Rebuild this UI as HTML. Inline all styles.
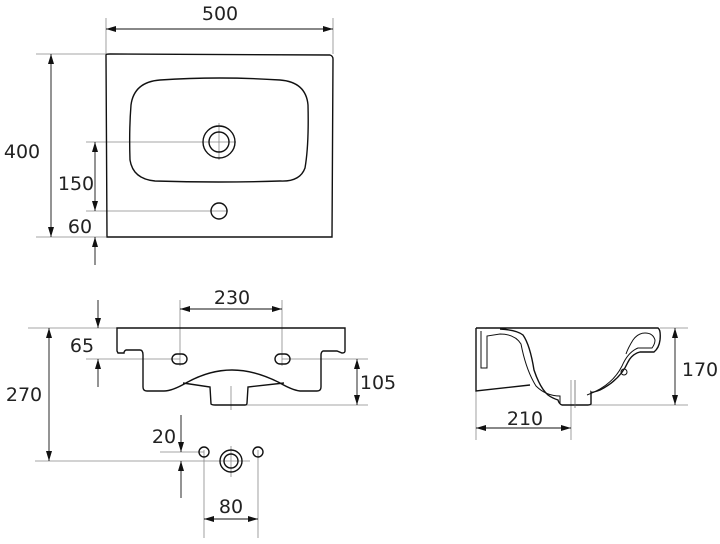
<!DOCTYPE html>
<html><head><style>html,body{margin:0;padding:0;background:#fff}svg{display:block}text{font-family:"DejaVu Sans","Liberation Sans",sans-serif;fill:#222}</style></head>
<body>
<svg width="720" height="544" viewBox="0 0 720 544" xmlns="http://www.w3.org/2000/svg">
<defs>
<marker id="a" viewBox="0 0 10 6" refX="10" refY="3" markerWidth="11" markerHeight="6" markerUnits="userSpaceOnUse" orient="auto-start-reverse"><path d="M0,0 L10,3 L0,6 z" fill="#111"/></marker>
</defs>
<g stroke="#888" stroke-width="0.8" fill="none">
<line x1="106" y1="18" x2="106" y2="54"/><line x1="333" y1="18" x2="333" y2="54"/>
<line x1="36" y1="54" x2="106" y2="54"/><line x1="36" y1="237" x2="106" y2="237"/>
<line x1="86" y1="142" x2="236" y2="142"/><line x1="86" y1="211" x2="228" y2="211"/>
<line x1="219" y1="123" x2="219" y2="160"/>
<line x1="180" y1="300" x2="180" y2="366"/><line x1="282" y1="300" x2="282" y2="366"/>
<line x1="28" y1="328" x2="117" y2="328"/><line x1="86" y1="359" x2="180" y2="359"/>
<line x1="282" y1="359" x2="368" y2="359"/><line x1="240" y1="405" x2="368" y2="405"/>
<line x1="35" y1="461" x2="250" y2="461"/><line x1="160" y1="452" x2="204" y2="452"/>
<line x1="231" y1="386" x2="231" y2="410"/><line x1="231" y1="446" x2="231" y2="477"/>
<line x1="204" y1="450" x2="204" y2="538"/><line x1="258" y1="450" x2="258" y2="538"/>
<line x1="660" y1="328" x2="688" y2="328"/><line x1="590" y1="405" x2="688" y2="405"/>
<line x1="476" y1="390" x2="476" y2="440"/><line x1="571" y1="380" x2="571" y2="440"/>
</g>
<g stroke="#111" stroke-width="0.9" fill="none">
<line x1="106" y1="29" x2="333" y2="29" marker-start="url(#a)" marker-end="url(#a)"/>
<line x1="51" y1="54" x2="51" y2="237" marker-start="url(#a)" marker-end="url(#a)"/>
<line x1="95" y1="142" x2="95" y2="211" marker-start="url(#a)" marker-end="url(#a)"/>
<line x1="95" y1="237" x2="95" y2="265" marker-start="url(#a)"/>
<line x1="180" y1="309" x2="282" y2="309" marker-start="url(#a)" marker-end="url(#a)"/>
<line x1="98" y1="300" x2="98" y2="328" marker-end="url(#a)"/>
<line x1="98" y1="359" x2="98" y2="387" marker-start="url(#a)"/>
<line x1="49" y1="328" x2="49" y2="461" marker-start="url(#a)" marker-end="url(#a)"/>
<line x1="357" y1="359" x2="357" y2="405" marker-start="url(#a)" marker-end="url(#a)"/>
<line x1="181" y1="415" x2="181" y2="452" marker-end="url(#a)"/>
<line x1="181" y1="461" x2="181" y2="498" marker-start="url(#a)"/>
<line x1="204" y1="519" x2="258" y2="519" marker-start="url(#a)" marker-end="url(#a)"/>
<line x1="675" y1="328" x2="675" y2="405" marker-start="url(#a)" marker-end="url(#a)"/>
<line x1="476" y1="428" x2="571" y2="428" marker-start="url(#a)" marker-end="url(#a)"/>
</g>
<g stroke="#111" stroke-width="1.4" fill="none">
<path d="M106,55 Q106,54 110,54 L330,55 Q333,56 333,59 L332,237 L107,237 Z"/>
<path d="M160,80 Q219,76 280,80 Q306,82 308,105 Q309,145 305,168 Q300,182 280,181 Q219,183 155,181 Q133,179 130,160 Q129,130 131,105 Q134,82 160,80 Z"/>
<circle cx="219" cy="142" r="16"/><circle cx="219" cy="142" r="10"/>
<circle cx="219" cy="211" r="8"/>
<path d="M117,328 L345,328 L345,351 Q345,353 342,353 L337,351 L323,351 Q321,352 321,355 L321,387 Q321,391 317,391 L300,391 Q292,390 280,383 Q255,370 232,370 Q209,370 186,383 Q172,391 164,391 L147,391 Q143,391 143,387 L143,355 Q143,350 140,350 L126,350 Q124,351 124,353 L118,353 L117,351 Z"/>
<path d="M183,383 L210,387 L211,404 Q212,405 215,405 L245,405 Q247,405 247,403 L248,387 L284,383"/>
<rect x="172" y="354" width="15" height="10" rx="5"/><rect x="275" y="354" width="15" height="10" rx="5"/>
<circle cx="204" cy="452" r="5"/><circle cx="258" cy="452" r="5"/>
<circle cx="231" cy="461" r="11"/><circle cx="231" cy="461" r="7"/>
<!-- side view -->
<path d="M476,328 L658,328 Q661,330 660,340 Q659,348 654,352 L640,352 Q632,354 628,362 Q620,380 600,390 Q592,393 591,392 L591,404 Q590,405 588,405 L562,405 Q559,404 558,400 Q552,398 548,395 Q540,388 534,370 Q530,345 523,335 Q517,330 500,329"/>
<path d="M476,328 L476,391 L530,385"/>
<path d="M481,331 L481,368 L487,368 L487,336 L500,334 Q515,334 521,344 Q526,370 536,386 Q546,396 560,396 L560,404" stroke-width="1"/>
<path d="M587,395 Q612,386 622,366 Q628,352 638,348 L652,348 Q655,344 655,340 Q653,333 645,333 Q638,333 633,340 Q628,348 626,354" stroke-width="1"/>
<circle cx="624" cy="372" r="3" stroke-width="1"/>
<line x1="575" y1="380" x2="575" y2="408" stroke="#666" stroke-width="0.8"/>
</g>
<g font-size="19">
<text x="220" y="20" text-anchor="middle">500</text>
<text x="22" y="158" text-anchor="middle">400</text>
<text x="76" y="190" text-anchor="middle">150</text>
<text x="80" y="233" text-anchor="middle">60</text>
<text x="232" y="304" text-anchor="middle">230</text>
<text x="82" y="352" text-anchor="middle">65</text>
<text x="24" y="401" text-anchor="middle">270</text>
<text x="378" y="389" text-anchor="middle">105</text>
<text x="164" y="443" text-anchor="middle">20</text>
<text x="231" y="513" text-anchor="middle">80</text>
<text x="700" y="376" text-anchor="middle">170</text>
<text x="525" y="425" text-anchor="middle">210</text>
</g>
</svg>
</body></html>
